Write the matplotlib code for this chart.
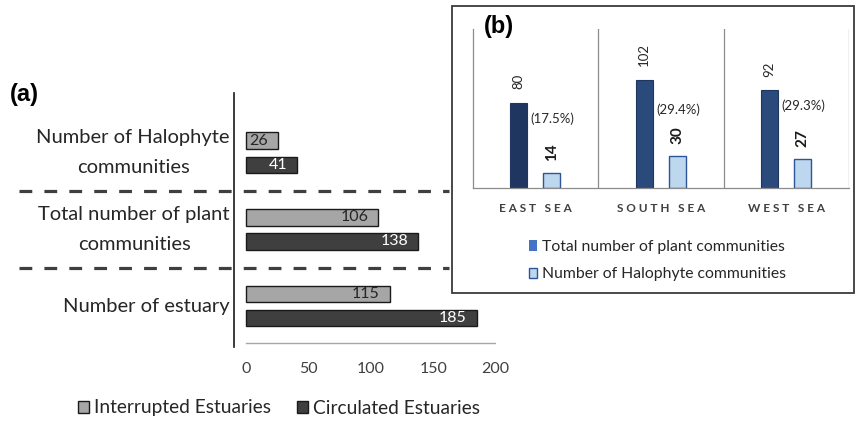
import numpy as np
import matplotlib.pyplot as plt
from matplotlib.patches import Patch, Rectangle

plt.rcParams['font.family'] = ['Lato', 'DejaVu Sans']

# (a) interrupted vs circulated estuaries (bottom to top)
a_categories = ['Number of estuary',
                'Total number of plant\ncommunities',
                'Number of Halophyte\ncommunities']
interrupted = [115, 106, 26]
circulated = [185, 138, 41]
a_ticks = [0, 50, 100, 150, 200]
a_legend = ['Interrupted Estuaries', 'Circulated Estuaries']

# (b) plant communities by sea
seas = ['EAST SEA', 'SOUTH SEA', 'WEST SEA']
total_plants = [80, 102, 92]
halophytes = [14, 30, 27]
b_legend = ['Total number of plant communities', 'Number of Halophyte communities']

W, H = 859, 422
fig = plt.figure(figsize=(W / 100, H / 100), dpi=100)


def box(left, top, right, bottom):
    return [left / W, 1 - bottom / H, (right - left) / W, (bottom - top) / H]


# ---- panel (a) ----
light, dark = '#a6a6a6', '#3f3f3f'
ax = fig.add_axes(box(234, 93, 495.6, 347))
ax.patch.set_alpha(0)
y = np.arange(len(a_categories))
h, off = 0.215, 0.158
ax.barh(y + off, interrupted, height=h, color=light, edgecolor='#1a1a1a', lw=1)
ax.barh(y - off, circulated, height=h, color=dark, edgecolor='#1a1a1a', lw=1)

for yi, v in zip(y, interrupted):
    ax.text(v - 8, yi + off, str(v), ha='right', va='center', fontsize=11.5, color='#262626')
for yi, v in zip(y, circulated):
    ax.text(v - 8, yi - off, str(v), ha='right', va='center', fontsize=11.5, color='white')

for yi, lab in zip(y, a_categories):
    ax.text(-13, yi, lab, ha='right', va='center', multialignment='center',
            fontsize=14.5, color='#262626', linespacing=1.9)

# group separators
for sep in [0.5, 1.5]:
    ax.plot([-182, 163], [sep, sep], color='#3f3f3f', lw=2.3, ls=(0, (4, 3.8)),
            clip_on=False, zorder=0)

ax.plot([0, 200], [-0.48, -0.48], color='#a6a6a6', lw=1)
ax.set_xlim(-9.6, 200)
ax.set_ylim(-0.535, 2.78)
ax.set_xticks(a_ticks)
ax.set_yticks([])
ax.tick_params(axis='x', length=0, pad=11, labelsize=11.5, labelcolor='#404040')
for s in ['top', 'right', 'bottom']:
    ax.spines[s].set_visible(False)
ax.spines['left'].set_color('#1a1a1a')
ax.spines['left'].set_linewidth(1.2)

fig.text(10 / W, 1 - 95 / H, '(a)', fontsize=17, fontweight='bold',
         family='Liberation Sans', va='center')
fig.legend(handles=[Patch(fc=light, ec='#1a1a1a'), Patch(fc=dark, ec='#1a1a1a')],
           labels=a_legend, loc='center', bbox_to_anchor=(279 / W, 1 - 408 / H),
           ncol=2, frameon=False, fontsize=13.8, handlelength=0.55, handleheight=0.6,
           handletextpad=0.25, columnspacing=1.4, labelcolor='#262626')

# ---- panel (b) ----
fig.patches.append(Rectangle((452 / W, 1 - 293 / H), 402 / W, 287 / H,
                             transform=fig.transFigure, fc='white', ec='#3a3a3a',
                             lw=1.3, zorder=-1))

axb = fig.add_axes(box(473, 29, 849, 188))
axb.patch.set_alpha(0)
xb = np.arange(len(seas))
bw = 0.136
navy = ['#1f3660', '#2a4a7c', '#2a4a7c']
axb.bar(xb - 0.135, total_plants, bw, color=navy, edgecolor='#1f3660', lw=0.8)
axb.bar(xb + 0.13, halophytes, bw, color='#bdd7ee', edgecolor='#2e5597', lw=1)

for xi, v in zip(xb, total_plants):
    axb.annotate(str(v), (xi - 0.135, v), xytext=(0, 10), textcoords='offset points',
                 rotation=90, ha='center', va='bottom', fontsize=9.5, color='#262626')
for xi, v in zip(xb, halophytes):
    axb.annotate(str(v), (xi + 0.13, v), xytext=(0, 9), textcoords='offset points',
                 rotation=90, ha='center', va='bottom', fontsize=11, fontweight='bold',
                 color='#1a1a1a')

pct_y = [65, 74, 78]
for xi, t, s, py in zip(xb, total_plants, halophytes, pct_y):
    axb.text(xi + 0.135, py, f'({s / t * 100:.1f}%)', ha='center', va='center',
             fontsize=9.5, color='#262626')

for sep in [0.5, 1.5, 2.5]:
    axb.axvline(sep, color='#8c8c8c', lw=0.9)
axb.set_xlim(-0.5, 2.5)
axb.set_ylim(0, 150)
axb.set_xticks(xb)
axb.set_xticklabels([' '.join(s) for s in seas], fontweight='bold')
axb.set_yticks([])
axb.tick_params(axis='x', length=0, pad=11, labelsize=8.5, labelcolor='#404040')
for s in ['top', 'right']:
    axb.spines[s].set_visible(False)
for s in ['left', 'bottom']:
    axb.spines[s].set_color('#8c8c8c')
    axb.spines[s].set_linewidth(0.9)

fig.text(499 / W, 1 - 26 / H, '(b)', fontsize=17, fontweight='bold',
         family='Liberation Sans', ha='center', va='center')
fig.legend(handles=[Patch(fc='#4472c4', ec='none'), Patch(fc='#bdd7ee', ec='#2e5597')],
           labels=b_legend, loc='upper left', bbox_to_anchor=(529 / W, 1 - 240 / H),
           frameon=False, fontsize=11.3, handlelength=0.5, handleheight=0.65,
           handletextpad=0.3, labelspacing=0.85, labelcolor='#262626',
           borderpad=0, borderaxespad=0)

fig.savefig('out.png', dpi=100)
